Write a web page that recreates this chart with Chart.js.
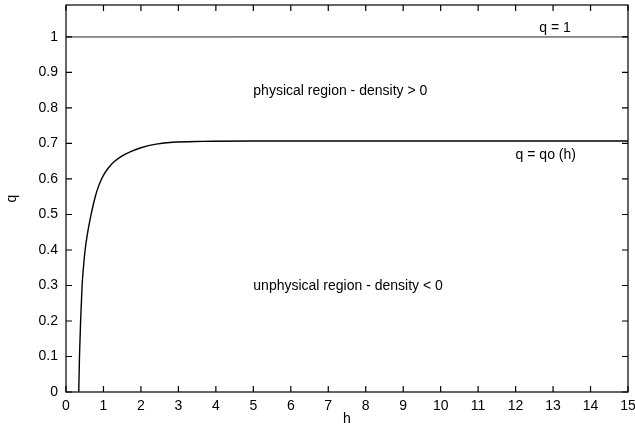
<!DOCTYPE html>
<html>
<head>
<meta charset="utf-8">
<script src="https://cdn.jsdelivr.net/npm/chart.js@4/dist/chart.umd.min.js"></script>
<style>
html,body{margin:0;padding:0;background:#fff;}
#wrap{width:635px;height:425px;position:relative;}
</style>
</head>
<body>
<div id="wrap"><canvas id="c" width="635" height="425"></canvas></div>
<script>
// Curve q = qo(h)
const hValues = [0.34, 0.35, 0.36, 0.375, 0.39, 0.41, 0.43, 0.465, 0.51, 0.58, 0.67, 0.78, 0.86, 0.94, 1.03, 1.13, 1.29, 1.50, 1.74, 2.00, 2.41, 2.85, 3.64, 5, 7, 10, 12, 15];
const qValues = [0.0, 0.05, 0.10, 0.15, 0.20, 0.25, 0.30, 0.35, 0.40, 0.45, 0.50, 0.55, 0.577, 0.598, 0.616, 0.631, 0.649, 0.665, 0.678, 0.688, 0.698, 0.7035, 0.706, 0.707, 0.707, 0.707, 0.707, 0.707];
// q = 1 line
const oneLineH = [0, 15];
const oneLineQ = [1, 1];
// Axes
const xTicks = [0,1,2,3,4,5,6,7,8,9,10,11,12,13,14,15];
const yTicks = [0,0.1,0.2,0.3,0.4,0.5,0.6,0.7,0.8,0.9,1];
const xMin = 0, xMax = 15, yMin = 0, yMax = 1.09;
// Annotations (text, anchor in data coords)
const notes = [
  {text: 'q = 1', h: 12.63, q: 1.025},
  {text: 'physical region - density > 0', h: 5.0, q: 0.848},
  {text: 'q = qo (h)', h: 12.0, q: 0.668},
  {text: 'unphysical region - density < 0', h: 5.0, q: 0.299}
];

const FONT = '"Liberation Sans", Arial, Helvetica, sans-serif';
const FS = 14;

const framePlugin = {
  id: 'frame',
  afterDatasetsDraw(chart) {
    const ctx = chart.ctx;
    const a = chart.chartArea;
    const xs = chart.scales.x, ys = chart.scales.y;
    ctx.save();
    ctx.strokeStyle = '#000';
    ctx.lineWidth = 1.2;
    ctx.strokeRect(a.left, a.top, a.right - a.left, a.bottom - a.top);
    const tl = 6;
    ctx.beginPath();
    xTicks.forEach(v => {
      const x = xs.getPixelForValue(v);
      ctx.moveTo(x, a.bottom); ctx.lineTo(x, a.bottom - tl);
      ctx.moveTo(x, a.top); ctx.lineTo(x, a.top + tl);
    });
    yTicks.forEach(v => {
      const y = ys.getPixelForValue(v);
      ctx.moveTo(a.left, y); ctx.lineTo(a.left + tl, y);
      ctx.moveTo(a.right, y); ctx.lineTo(a.right - tl, y);
    });
    ctx.stroke();
    ctx.fillStyle = '#000';
    ctx.font = FS + 'px ' + FONT;
    ctx.textAlign = 'left';
    ctx.textBaseline = 'middle';
    notes.forEach(n => {
      ctx.fillText(n.text, xs.getPixelForValue(n.h), ys.getPixelForValue(n.q));
    });
    ctx.restore();
  }
};

new Chart(document.getElementById('c'), {
  type: 'scatter',
  data: {
    datasets: [
      {
        label: 'q = 1',
        data: oneLineH.map((h, i) => ({x: h, y: oneLineQ[i]})),
        showLine: true, borderColor: '#222', borderWidth: 1, pointRadius: 0, fill: false
      },
      {
        label: 'q = qo (h)',
        data: hValues.map((h, i) => ({x: h, y: qValues[i]})),
        showLine: true, borderColor: '#000', borderWidth: 1.4, pointRadius: 0, fill: false,
        cubicInterpolationMode: 'monotone'
      }
    ]
  },
  options: {
    responsive: false,
    animation: false,
    events: [],
    layout: {padding: {left: 0, right: 7, top: 5, bottom: 0}},
    plugins: {legend: {display: false}, tooltip: {enabled: false}},
    scales: {
      x: {
        type: 'linear', min: xMin, max: xMax,
        afterFit(s) { s.height = 33; s.paddingLeft = 0; s.paddingRight = 0; },
        afterBuildTicks(s) { s.ticks = xTicks.map(v => ({value: v})); },
        grid: {display: false, drawTicks: false},
        border: {display: false},
        ticks: {color: '#000', padding: 6, maxRotation: 0, autoSkip: false, font: {family: FONT, size: FS}},
        title: {display: true, text: 'h', color: '#000', padding: 0, font: {family: FONT, size: FS, lineHeight: 0.9}}
      },
      y: {
        type: 'linear', min: yMin, max: yMax,
        afterFit(s) { s.width = 66; s.paddingTop = 0; s.paddingBottom = 0; },
        afterBuildTicks(s) { s.ticks = yTicks.map(v => ({value: v})); },
        grid: {display: false, drawTicks: false},
        border: {display: false},
        ticks: {color: '#000', padding: 8, autoSkip: false, font: {family: FONT, size: FS},
          callback: v => String(+v.toFixed(1))},
        title: {display: true, text: 'q', color: '#000', padding: {top: 5, bottom: 0}, font: {family: FONT, size: FS, lineHeight: 1}}
      }
    }
  },
  plugins: [framePlugin]
});
</script>
</body>
</html>
